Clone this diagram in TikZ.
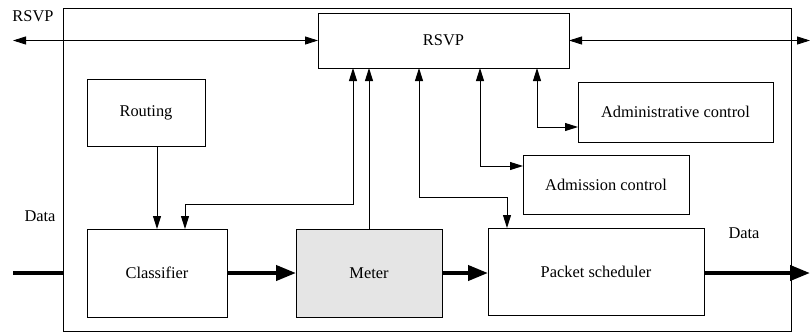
\documentclass[tikz,border=0pt]{standalone}
\usepackage{fontspec}
\setmainfont{Liberation Serif}
\newfontfamily\tnrfont{Liberation Serif}
\usetikzlibrary{arrows.meta}
\begin{document}
\begin{tikzpicture}[x=1pt,y=-1pt,
  font=\tnrfont\fontsize{16.4}{19}\selectfont,
  box/.style={draw=black, line width=0.9pt, inner sep=0pt, outer sep=0pt, anchor=north west, align=center},
  thin/.style={draw=black, line width=0.9pt},
  arr/.style={thin, -{Triangle[length=13pt,width=8pt]}},
  biarr/.style={thin, {Triangle[length=13pt,width=8pt]}-{Triangle[length=13pt,width=8pt]}},
  thick arr/.style={draw=black, line width=4pt, -{Triangle[length=20pt,width=15pt]}},
  lbl/.style={inner sep=0pt}]
\useasboundingbox (0,0) rectangle (810,333);
% frame
\draw[line width=1pt] (63,8) rectangle (791,331);
% boxes
\node[box, minimum width=251pt, minimum height=55pt] (rsvp) at (318,13) {RSVP};
\node[box, minimum width=118pt, minimum height=67pt] (routing) at (87,79) {Routing};
\node[box, minimum width=195pt, minimum height=60pt] (admin) at (578,82) {Administrative control};
\node[box, minimum width=166pt, minimum height=59pt] (admission) at (523,155) {Admission control};
\node[box, minimum width=140pt, minimum height=88pt] (classifier) at (87,229) {Classifier};
\node[box, minimum width=146pt, minimum height=88pt, fill=black!10] (meter) at (296,229) {Meter};
\node[box, minimum width=216pt, minimum height=87pt] (sched) at (488,228) {Packet scheduler};
% labels
\node[lbl] (lrsvp) at (33,16) {RSVP};
\node[lbl] (ldata1) at (40,216) {Data};
\node[lbl] (ldata2) at (744,233) {Data};
% helper coordinates
\coordinate (lend) at (13,40.5);
\coordinate (rend) at (810,40.5);
\coordinate (x157) at (157,0);
\coordinate (x185) at (185,204);
\coordinate (x353) at (353,204);
\coordinate (x369) at (369,0);
\coordinate (x419) at (419,197);
\coordinate (x507) at (507,197);
\coordinate (x480) at (480,166);
\coordinate (x537) at (537,127);
\coordinate (din) at (13,273);
\coordinate (dframe) at (63,273);
\coordinate (dout) at (810,273);
% RSVP external
\draw[biarr] (lend) -- (rsvp.west);
\draw[biarr] (rsvp.east) -- (rend);
% routing -> classifier
\draw[arr] (routing.south -| x157) -- (classifier.north -| x157);
% classifier <-> rsvp
\draw[biarr] (rsvp.south -| x353) -- (x353) -- (x185) -- (classifier.north -| x185);
% meter -> rsvp
\draw[arr] (meter.north -| x369) -- (rsvp.south -| x369);
% rsvp <-> scheduler
\draw[biarr] (rsvp.south -| x419) -- (x419) -- (x507) -- (sched.north -| x507);
% rsvp <-> admission
\draw[biarr] (rsvp.south -| x480) -- (x480) -- (admission.west |- x480);
% rsvp <-> admin
\draw[biarr] (rsvp.south -| x537) -- (x537) -- (admin.west |- x537);
% data path
\draw[line width=4pt] (din) -- (dframe);
\draw[thick arr] (classifier.east |- dframe) -- (meter.west |- dframe);
\draw[thick arr] (meter.east |- dframe) -- (sched.west |- dframe);
\draw[thick arr] (sched.east |- dframe) -- (dout);
\end{tikzpicture}
\end{document}
